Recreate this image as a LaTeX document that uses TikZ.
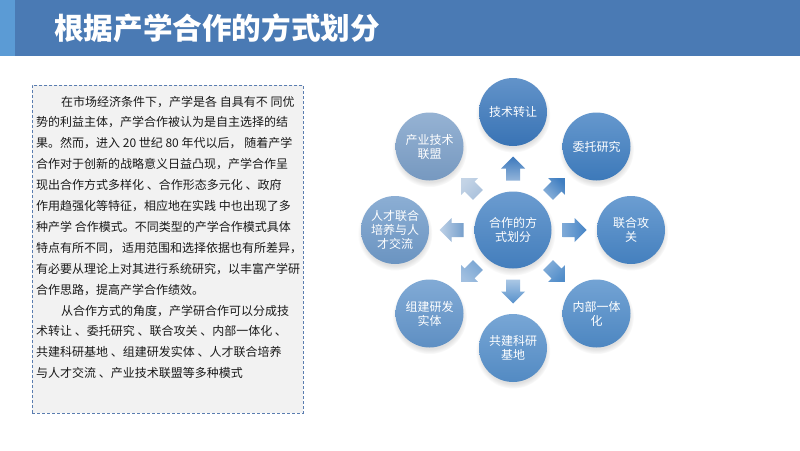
\documentclass[tikz,border=0pt]{standalone}
\usepackage{fontspec}
\setmainfont{Noto Sans CJK SC}
\usetikzlibrary{shadows}
\definecolor{barblue}{HTML}{4A7AB4}
\definecolor{stripblue}{HTML}{5B9BD5}
\definecolor{boxfill}{HTML}{F2F2F2}
\definecolor{boxline}{HTML}{5A7DB0}
\definecolor{bodytext}{HTML}{1A1A1A}
\definecolor{cA}{HTML}{3B78BC}
\definecolor{cB}{HTML}{3F7EC1}
\definecolor{cC}{HTML}{4785C6}
\definecolor{cD}{HTML}{508CC9}
\definecolor{cE}{HTML}{5690CB}
\definecolor{cF}{HTML}{6295CB}
\definecolor{cG}{HTML}{6F9AC9}
\definecolor{cH}{HTML}{7B9FC8}
\definecolor{cM}{HTML}{4683C4}
\tikzset{
  bubble/.style={circle, minimum size=68pt, inner sep=0pt, text=white, align=center,
    font=\fontsize{12}{14}\selectfont,
    top color=#1!80!white, bottom color=#1!96!black,
    circular drop shadow={shadow xshift=0pt, shadow yshift=-3pt, opacity=0.12, fill=black}},
  hubble/.style={bubble=#1, minimum size=77pt},
}
% block arrow: centre x, centre y, direction angle, tail colour, tip colour
\newcommand\blockarr[5]{%
  \pgfmathsetmacro\shang{#3-90}%
  \pgfmathsetmacro\cc{cos(#3)}%
  \pgfmathsetmacro\ss{sin(#3)}%
  \begin{scope}[shift={(#1,#2)}]
  \path[top color=#5, bottom color=#4, shading angle=\shang]
    ({-12*\cc-7*\ss},{12*\ss-7*\cc}) --
    ({-7*\ss},{-7*\cc}) --
    ({-12*\ss},{-12*\cc}) --
    ({12*\cc},{-12*\ss}) --
    ({12*\ss},{12*\cc}) --
    ({7*\ss},{7*\cc}) --
    ({-12*\cc+7*\ss},{12*\ss+7*\cc}) -- cycle;
  \end{scope}}
\begin{document}
\begin{tikzpicture}[x=1pt,y=-1pt]
\useasboundingbox (0,0) rectangle (800,450);
\fill[white] (0,0) rectangle (800,450);
% title bar
\fill[barblue] (0,0) rectangle (800,56);
\fill[stripblue] (0,0) rectangle (15,56);
\node[anchor=west, inner sep=0pt, text=white, font=\bfseries\fontsize{29.6}{30}\selectfont] (title) at (54,28) {根据产学合作的方式划分};
% text box
\node[anchor=north west, draw=boxline, dash pattern=on 3pt off 2pt, line width=0.8pt, fill=boxfill,
  minimum width=271pt, minimum height=328pt, inner sep=0pt] (box) at (32,85) {};
\node[anchor=base west, inner sep=0pt, text=bodytext] (para) at (36,106) {\parbox[t]{266pt}{%
\fontsize{12}{20.9}\selectfont\setlength{\parindent}{0pt}%
\hspace*{25pt}在市场经济条件下，产学是各 自具有不 同优\\
势的利益主体，产学合作被认为是自主选择的结\\
果。然而，进入 20 世纪 80 年代以后， 随着产学\\
合作对于创新的战略意义日益凸现，产学合作呈\\
现出合作方式多样化 、合作形态多元化 、政府\\
作用趋强化等特征，相应地在实践 中也出现了多\\
种产学 合作模式。不同类型的产学合作模式具体\\
特点有所不同， 适用范围和选择依据也有所差异，\\
有必要从理论上对其进行系统研究，以丰富产学研\\
合作思路，提高产学合作绩效。\\
\hspace*{25pt}从合作方式的角度，产学研合作可以分成技\\
术转让 、委托研究 、联合攻关 、内部一体化 、\\
共建科研基地 、组建研发实体 、人才联合培养\\
与人才交流 、产业技术联盟等多种模式}};
% arrows
\blockarr{513}{168.5}{90}{cA!55!white}{cA}
\blockarr{556.5}{186.5}{45}{cB!60!white}{cB}
\blockarr{574.5}{230}{0}{cC!70!white}{cC}
\blockarr{556.5}{273.5}{-45}{cD!70!white}{cD}
\blockarr{513}{291.5}{-90}{cE!50!white}{cE}
\blockarr{469.5}{273.5}{-135}{cF!85!white}{cF!60!white}
\blockarr{451.5}{230}{180}{cG!95!white}{cG!45!white}
\blockarr{469.5}{186.5}{135}{cH!65!white}{cH!45!white}
% circles
\node[hubble=cM] (hub) at (513,230) {合作的方\\式划分};
\node[bubble=cA] (n1) at (513,112) {技术转让};
\node[bubble=cB] (n2) at (596.5,146.5) {委托研究};
\node[bubble=cC] (n3) at (631,230) {联合攻\\关};
\node[bubble=cD] (n4) at (596.5,313.5) {内部一体\\化};
\node[bubble=cE] (n5) at (513,348) {共建科研\\基地};
\node[bubble=cF] (n6) at (429.5,313.5) {组建研发\\实体};
\node[bubble=cG] (n7) at (395,230) {人才联合\\培养与人\\才交流};
\node[bubble=cH] (n8) at (429.5,146.5) {产业技术\\联盟};
\end{tikzpicture}
\end{document}
